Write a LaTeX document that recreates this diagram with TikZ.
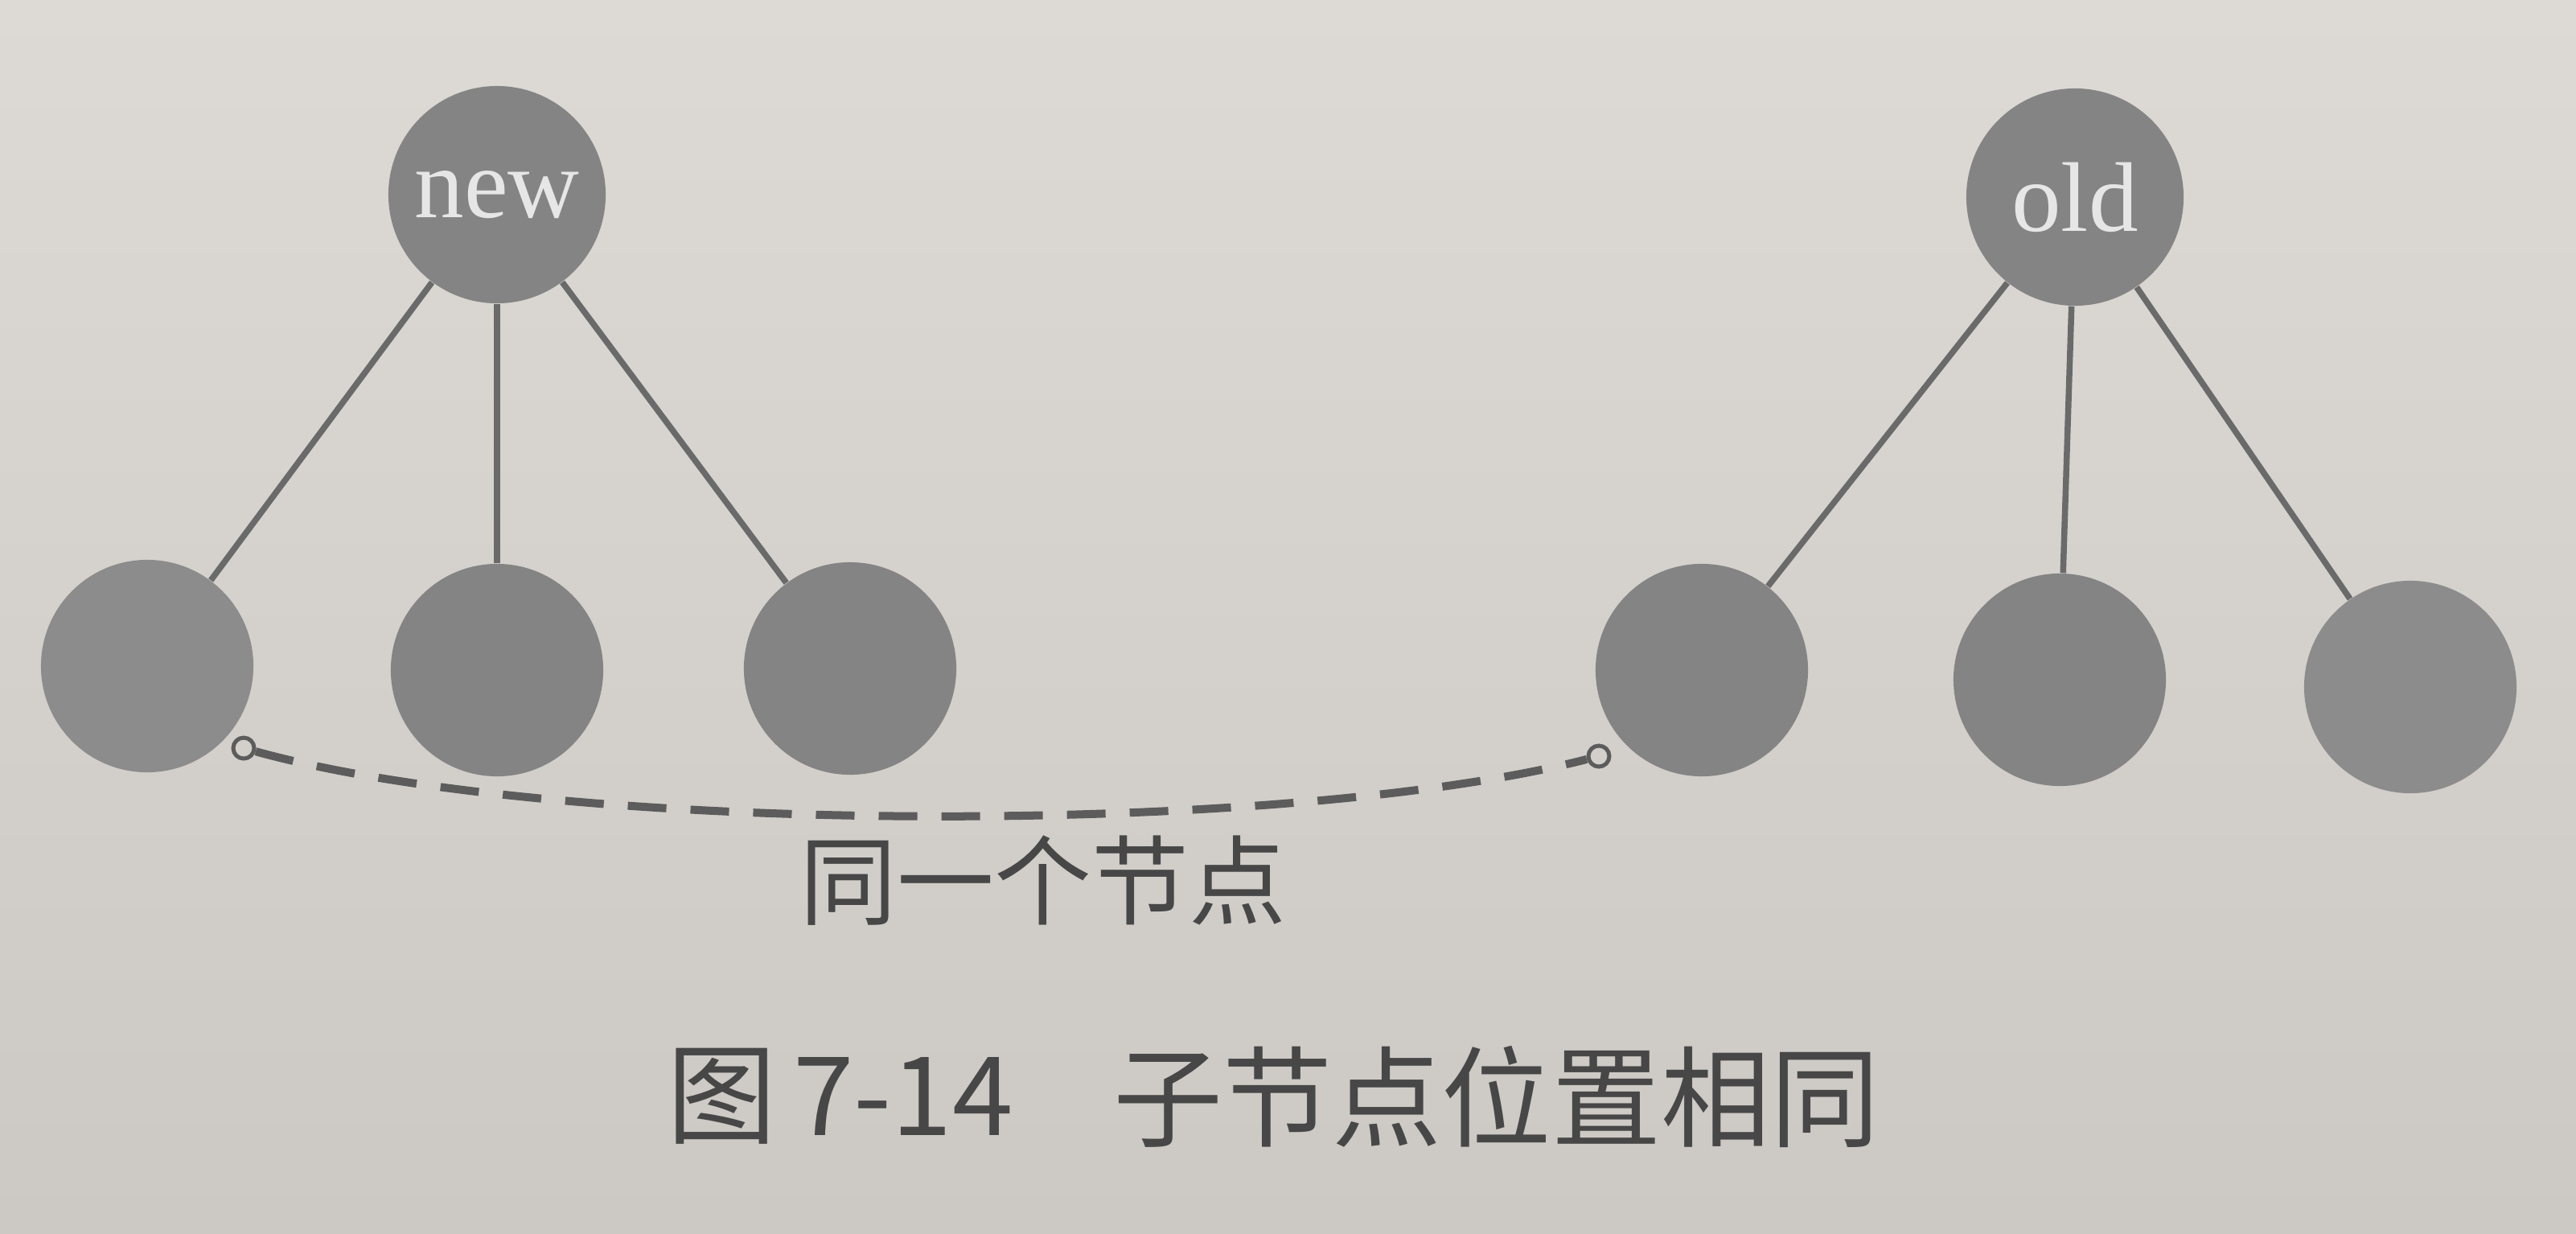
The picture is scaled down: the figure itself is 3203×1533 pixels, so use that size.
\documentclass[tikz,border=0pt]{standalone}
\usepackage{fontspec}
\setmainfont{Liberation Serif}
\newfontfamily\cjk{Noto Sans CJK SC}
\definecolor{papertop}{HTML}{DDDAD6}
\definecolor{paperbot}{HTML}{CCC8C4}
\definecolor{nodegray}{HTML}{848484}
\definecolor{nodelight}{HTML}{8C8C8C}
\definecolor{nodetext}{HTML}{E6E6E6}
\definecolor{edgegray}{HTML}{6A6A6A}
\definecolor{dashgray}{HTML}{5C5C5C}
\definecolor{labelgray}{HTML}{474747}
\begin{document}
\begin{tikzpicture}[x=0.01cm,y=-0.01cm,
  parentnode/.style={circle, fill=nodegray, minimum size=2.7cm, inner sep=0pt,
    text=nodetext, font=\fontsize{35}{40}\selectfont},
  childnode/.style={circle, fill=nodegray, minimum size=2.64cm, inner sep=0pt},
  treeedge/.style={draw=edgegray, line width=0.075cm},
  ring/.style={circle, draw=dashgray, line width=0.05cm, minimum size=0.26cm, inner sep=0pt},
  samelink/.style={draw=dashgray, line width=0.1cm, dash pattern=on 0.48cm off 0.3cm},
  labeltext/.style={text=labelgray, inner sep=0pt, font=\cjk\fontsize{34.4}{40}\selectfont},
  captext/.style={text=labelgray, inner sep=0pt, font=\cjk\fontsize{38.7}{44}\selectfont}]
  % background paper
  \shade[top color=papertop, bottom color=paperbot] (0,0) rectangle (3203,1533);
  % new tree
  \node[parentnode] (new) at (618,242) {new};
  \node[childnode, fill=nodelight] (n1) at (183,828) {};
  \node[childnode] (n2) at (618,833) {};
  \node[childnode] (n3) at (1057,831) {};
  % old tree
  \node[parentnode] (old) at (2580,245) {old};
  \node[childnode] (o1) at (2116,833) {};
  \node[childnode] (o2) at (2561,845) {};
  \node[childnode, fill=nodelight] (o3) at (2997,854) {};
  % edges
  \draw[treeedge] (new) -- (n1);
  \draw[treeedge] (new) -- (n2);
  \draw[treeedge] (new) -- (n3);
  \draw[treeedge] (old) -- (o1);
  \draw[treeedge] (old) -- (o2);
  \draw[treeedge] (old) -- (o3);
  % same-node link
  \node[ring] (lring) at (303,930) {};
  \node[ring] (rring) at (1988,940) {};
  \draw[samelink] (lring) .. controls (700,1040) and (1600,1040) .. (rring);
  \node[labeltext] (same) at (1297,1095) {同一个节点};
  % caption
  \node[captext] (capfig) at (898,1363) {图};
  \node[captext] (capnum) at (1123,1363) {7-14};
  \node[captext] (captxt) at (1861,1363) {子节点位置相同};
\end{tikzpicture}
\end{document}
